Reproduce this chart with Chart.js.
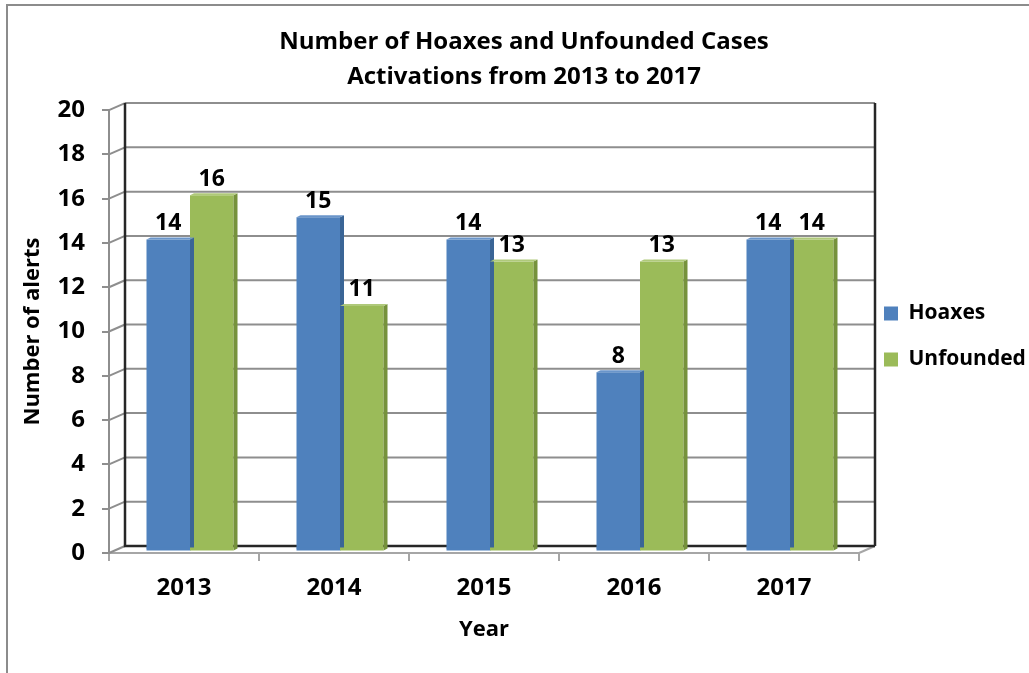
<!DOCTYPE html>
<html><head><meta charset="utf-8">
<script src="https://cdn.jsdelivr.net/npm/chart.js@4.4.1/dist/chart.umd.min.js"></script>
<style>html,body{margin:0;padding:0;background:#fff;overflow:hidden}</style>
</head><body>
<canvas id="c" width="1029" height="673" style="display:block;width:1029px;height:673px"></canvas>
<script>
const categories = ['2013', '2014', '2015', '2016', '2017'];
const hoaxes = [14, 15, 14, 8, 14];
const unfounded = [16, 11, 13, 13, 14];
const seriesNames = ['Hoaxes', 'Unfounded'];
const seriesColors = ['#4F81BD', '#9BBB59'];
const sideColors = ['#3A6596', '#76923C'];
const topColors = ['#6A95CA', '#AFC97A'];
const titleLines = ['Number of Hoaxes and Unfounded Cases', 'Activations from 2013 to 2017'];
const yTitle = 'Number of alerts';
const xTitle = 'Year';
const yMin = 0, yMax = 20, yStep = 2;

const FONT = '"Open Sans"';
const DX = 16, DY = -7;      // depth of the 3D box
const BX = 6, BY = -3.5;     // bars sit inside the depth

const frame = {
  id: 'frame',
  beforeDraw(chart) {
    const ctx = chart.ctx;
    ctx.save();
    ctx.strokeStyle = '#8c8c8c';
    ctx.lineWidth = 2;
    ctx.strokeRect(7, 5, 1200, 900);
    ctx.restore();
  }
};

const threeD = {
  id: 'threeD',
  beforeDatasetsDraw(chart) {
    const ctx = chart.ctx;
    const {left, right, top, bottom} = chart.chartArea;
    const ys = chart.scales.y;
    ctx.save();
    ctx.strokeStyle = '#8e8e8e';
    ctx.lineWidth = 2;
    ys.ticks.forEach(t => {
      const y = ys.getPixelForValue(t.value);
      ctx.beginPath();
      if (t.value !== yMin) {
        ctx.moveTo(left + DX, y + DY);
        ctx.lineTo(right + DX, y + DY);
      }
      ctx.moveTo(left, y);
      ctx.lineTo(left + DX, y + DY);
      ctx.stroke();
    });
    ctx.strokeStyle = '#a6a6a6';
    ctx.beginPath();
    ctx.moveTo(right, bottom);
    ctx.lineTo(right + DX, bottom + DY);
    ctx.stroke();
    ctx.strokeStyle = '#262626';
    ctx.lineWidth = 2.5;
    ctx.beginPath();
    ctx.moveTo(left + DX, top + DY);
    ctx.lineTo(left + DX, bottom + DY);
    ctx.lineTo(right + DX, bottom + DY);
    ctx.moveTo(right + DX, top + DY);
    ctx.lineTo(right + DX, bottom + DY);
    ctx.stroke();
    ctx.restore();
    ctx.save();
    ctx.translate(BX, BY);
  },
  afterDatasetsDraw(chart) {
    const ctx = chart.ctx;
    chart.data.datasets.forEach((ds, di) => {
      const meta = chart.getDatasetMeta(di);
      meta.data.forEach((bar, i) => {
        const xl = bar.x - bar.width / 2, xr = bar.x + bar.width / 2;
        const yt = bar.y, yb = bar.base + 2;
        ctx.fillStyle = sideColors[di];
        ctx.beginPath();
        ctx.moveTo(xr, yt); ctx.lineTo(xr + 4, yt - 2); ctx.lineTo(xr + 4, yb - 2); ctx.lineTo(xr, yb);
        ctx.closePath(); ctx.fill();
        ctx.fillStyle = seriesColors[di];
        ctx.fillRect(xl, bar.base - 1, bar.width, 3);
        ctx.fillStyle = topColors[di];
        ctx.beginPath();
        ctx.moveTo(xl, yt); ctx.lineTo(xl + 4, yt - 2); ctx.lineTo(xr + 4, yt - 2); ctx.lineTo(xr, yt);
        ctx.closePath(); ctx.fill();
        ctx.fillStyle = '#000';
        ctx.font = 'bold 23px ' + FONT;
        ctx.textAlign = 'center';
        ctx.textBaseline = 'middle';
        ctx.fillText(String(ds.data[i]), bar.x, yt - 16);
      });
    });
    ctx.restore();
  }
};

new Chart(document.getElementById('c'), {
  type: 'bar',
  data: {
    labels: categories,
    datasets: [
      {label: seriesNames[0], data: hoaxes, backgroundColor: seriesColors[0], borderWidth: 0},
      {label: seriesNames[1], data: unfounded, backgroundColor: seriesColors[1], borderWidth: 0}
    ]
  },
  options: {
    responsive: false,
    animation: false,
    devicePixelRatio: 1,
    categoryPercentage: 0.58,
    barPercentage: 1.0,
    layout: {padding: {left: 19, right: 0, top: 0, bottom: 0}},
    plugins: {
      title: {
        display: true,
        text: titleLines,
        color: '#000',
        font: {family: FONT, size: 24, weight: 'bold', lineHeight: 1.46},
        padding: {top: 24.5, bottom: 15.5}
      },
      legend: {
        display: true,
        position: 'right',
        maxWidth: 170,
        labels: {
          color: '#000',
          font: {family: FONT, size: 21, weight: 'bold'},
          boxWidth: 14, boxHeight: 14,
          padding: 25
        }
      },
      tooltip: {enabled: false}
    },
    scales: {
      x: {
        grid: {drawOnChartArea: false, drawTicks: true, tickLength: 8, color: '#a6a6a6', lineWidth: 2, offset: true},
        border: {display: true, color: '#a6a6a6', width: 2},
        ticks: {color: '#000', font: {family: FONT, size: 24, weight: 'bold'}, padding: 13},
        title: {display: true, text: xTitle, color: '#000', font: {family: FONT, size: 22, weight: 'bold'}, padding: {top: 0, bottom: 30}},
        afterFit(s) { s.height = 120; }
      },
      y: {
        min: yMin, max: yMax,
        grid: {drawOnChartArea: false, drawTicks: true, tickLength: 7, color: '#8e8e8e', lineWidth: 2},
        border: {display: true, color: '#8e8e8e', width: 2},
        ticks: {stepSize: yStep, color: '#000', font: {family: FONT, size: 24, weight: 'bold'}, padding: 17},
        title: {display: true, text: yTitle, color: '#000', font: {family: FONT, size: 22, weight: 'bold'}, padding: {top: 1, bottom: 0}},
        afterFit(s) { s.width = 90; }
      }
    }
  },
  plugins: [frame, threeD]
});
</script>
</body></html>
